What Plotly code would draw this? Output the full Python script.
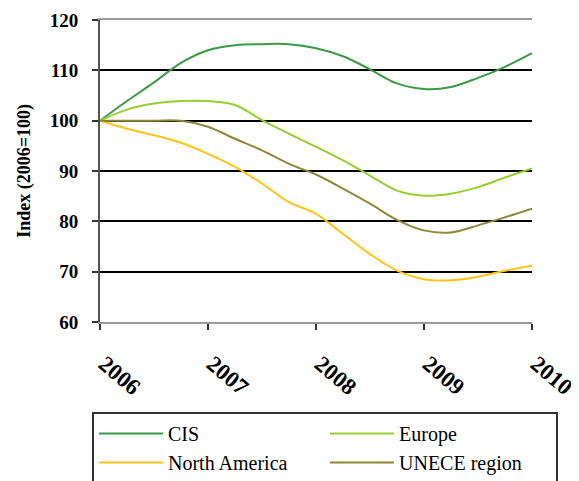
import plotly.graph_objects as go

years = [2006, 2006.25, 2006.5, 2006.75, 2007, 2007.25, 2007.5, 2007.75, 2008,
         2008.25, 2008.5, 2008.75, 2009, 2009.25, 2009.5, 2009.75, 2010]
cis = [100, 103.9, 107.6, 111.5, 114, 115, 115.2, 115.2, 114.4, 112.8, 110.2, 107.4,
       106.3, 106.7, 108.5, 110.7, 113.4]
europe = [100, 102.2, 103.4, 103.9, 103.9, 103.1, 100.1, 97.4, 94.8, 92.1, 89.1,
          86.1, 85.1, 85.5, 86.8, 88.7, 90.5]
north_america = [100, 98.4, 97.1, 95.6, 93.4, 90.8, 87.5, 83.8, 81.5, 77.5, 73.5,
                 70.2, 68.5, 68.3, 69.0, 70.2, 71.2]
unece = [100, 100, 100, 100, 98.8, 96.4, 94.1, 91.4, 89.3, 86.5, 83.5, 80.3,
         78.2, 77.8, 79.2, 80.8, 82.5]
year_ticks = [2006, 2007, 2008, 2009, 2010]
y_ticks = [60, 70, 80, 90, 100, 110, 120]

series = [
    ("CIS", cis, "#3a9a45"),
    ("Europe", europe, "#9acd32"),
    ("North America", north_america, "#ffc419"),
    ("UNECE region", unece, "#8a8a3a"),
]

font_family = "Liberation Serif"

fig = go.Figure()
for name, vals, color in series:
    fig.add_trace(go.Scatter(x=years, y=vals, name=name, mode="lines",
                             line=dict(color=color, width=2, shape="spline")))

# page body has an 8px margin, so the figure is made 8px smaller
fig.update_layout(
    width=571, height=473,
    margin=dict(l=92, r=47, t=12, b=159, autoexpand=False),
    paper_bgcolor="white", plot_bgcolor="white",
    font=dict(family=font_family, color="black", size=18),
    showlegend=True,
    legend=dict(
        orientation="h",
        x=-0.0185, y=-0.298, xanchor="left", yanchor="top",
        itemwidth=64,
        entrywidth=152, entrywidthmode="pixels",
        bordercolor="#333333", borderwidth=2,
        font=dict(family=font_family, size=20, color="black"),
        traceorder="normal",
    ),
)
fig.update_xaxes(
    range=[2006, 2010], tickvals=year_ticks,
    ticktext=[" " + str(y) for y in year_ticks],
    tickangle=40, ticks="outside", ticklen=6, tickcolor="#333333", tickwidth=2,
    ticklabelstandoff=8, automargin=False,
    showgrid=False, zeroline=False,
    showline=True, linecolor="#999999", linewidth=2, mirror=True,
    tickfont=dict(family=font_family, size=23, color="black", weight="bold"),
)
fig.update_yaxes(
    range=[60, 120], tickvals=y_ticks, automargin=False,
    ticks="outside", ticklen=6, tickcolor="#333333", tickwidth=2,
    ticklabelstandoff=10,
    showgrid=True, gridcolor="black", gridwidth=2, zeroline=False,
    showline=True, linecolor="#555555", linewidth=2,
    tickfont=dict(family=font_family, size=19, color="black", weight="bold"),
    title=dict(text="Index (2006=100)", standoff=14,
               font=dict(family=font_family, size=18, color="black", weight="bold")),
)

fig.write_html("out.html")
